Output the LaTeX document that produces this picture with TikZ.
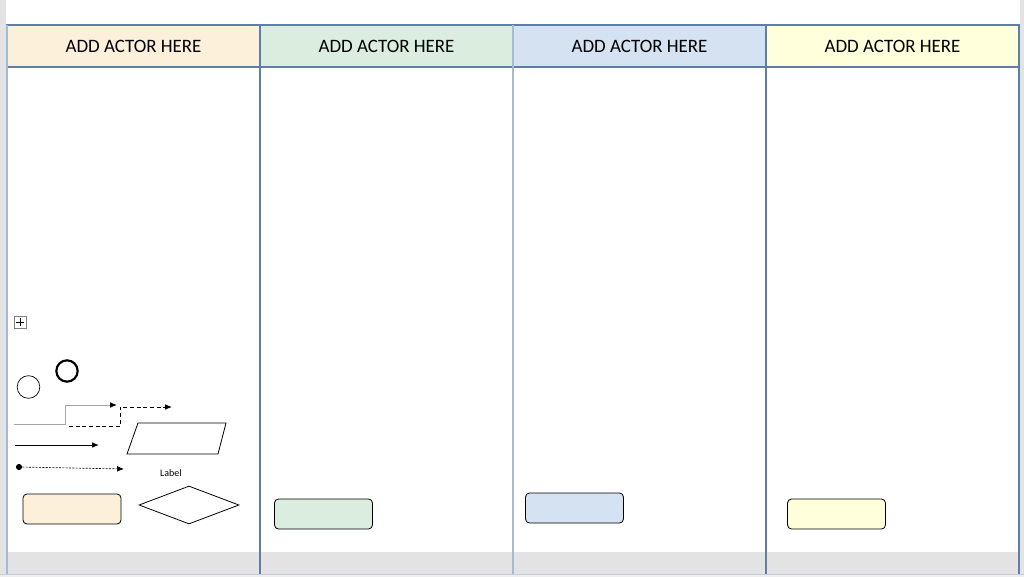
\documentclass[tikz,border=0pt]{standalone}
\usepackage{fontspec}
\setmainfont{Carlito}
\usetikzlibrary{arrows.meta,shapes.geometric}
\definecolor{peach}{HTML}{FDF0DB}
\definecolor{mint}{HTML}{DBEDDF}
\definecolor{sky}{HTML}{D5E2F2}
\definecolor{lemon}{HTML}{FFFFDC}
\definecolor{laneline}{HTML}{5E7EA8}
\definecolor{paleline}{HTML}{A6BBD2}
\definecolor{frame}{HTML}{E3E3E3}
\tikzset{x=0.75pt,y=-0.75pt,
    lanehead/.style={draw=laneline, line width=0.8pt, minimum width=189.75pt,
        minimum height=31.5pt, inner sep=0pt, font=\fontsize{14.2}{16}\selectfont},
    sidebox/.style={draw=black, line width=0.6pt, rounded corners=3pt,
        minimum width=73.5pt, minimum height=22.5pt, inner sep=0pt},
    tip/.style={-{Latex[length=5.2pt,width=4.2pt]}},
    }

\begin{document}
\begin{tikzpicture}
	\useasboundingbox (0,0) rectangle (1024,577);
	% window frame
	\fill[frame] (0,0) rectangle (6,574);
	\fill[frame] (1020,0) rectangle (1024,574);
	\fill[frame!60] (0,574) rectangle (1024,577);
	\fill[frame] (7,552) rectangle (1019,574);
	\draw[paleline!70, line width=0.6pt] (0,574) -- (1024,574);
	% lane heads
	\foreach \col [count=\i from 0] in {peach,mint,sky,lemon}
		\node[lanehead, fill=\col] (actor\i) at (133.5+253*\i,46) {ADD ACTOR HERE};
	% lane lines
	\draw[paleline, line width=1pt] (7,25) -- (7,574);
	\draw[laneline, line width=1.5pt] (260,25) -- (260,574);
	\draw[paleline, line width=1pt] (513,25) -- (513,574);
	\draw[laneline, line width=1.1pt] (766,25) -- (766,574);
	\draw[laneline, line width=1pt] (1019,25) -- (1019,574);
	% legend shapes
	\node[draw=gray, line width=0.6pt, minimum size=9.5pt, inner sep=0pt] (expand) at (20.5,322.5) {};
	\draw[line width=0.8pt] (expand.north) ++(0,2) -- ++(0,8.7) (expand.west) ++(2,0) -- ++(8.7,0);
	\node[draw, circle, line width=0.5pt, minimum size=17pt, inner sep=0pt] (startev) at (28.5,387) {};
	\node[draw, circle, line width=1.6pt, minimum size=16pt, inner sep=0pt] (endev) at (67,371) {};
	\coordinate (grayA) at (14,424);
	\coordinate (grayB) at (117,405);
	\draw[gray!70, -{Latex[length=5.2pt,width=4.2pt,black]}, line width=0.6pt] (grayA) -- (65,424) -- (65,405) -- (grayB);
	\coordinate (dashA) at (69,426);
	\coordinate (dashB) at (172,407);
	\draw[tip, line width=0.6pt, dash pattern=on 3pt off 2pt] (dashA) -- (120,426) -- (120,407) -- (dashB);
	\coordinate (flowA) at (15,445);
	\coordinate (flowB) at (99,445);
	\draw[tip, line width=0.7pt] (flowA) -- (flowB);
	\coordinate (msgA) at (19,467);
	\coordinate (msgB) at (124,469);
	\fill (msgA) circle (2.3pt);
	\draw[tip, line width=0.5pt, dash pattern=on 1.5pt off 1pt] (msgA) -- (msgB);
	\draw[line width=0.6pt] (138,423) -- (226,423) -- (218,454) -- (127,454) -- cycle;
	\node[font=\fontsize{7.5}{8}\selectfont] (label) at (171,473) {Label};
	\node[draw, diamond, aspect=2.6, line width=0.6pt, minimum width=75pt, minimum height=28.5pt, inner sep=0pt] (gate) at (189,505) {};
	% activity boxes
	\node[sidebox, fill=peach] (taskA) at (72,509) {};
	\node[sidebox, fill=mint] (taskB) at (323.5,514) {};
	\node[sidebox, fill=sky] (taskC) at (574.5,508) {};
	\node[sidebox, fill=lemon] (taskD) at (836.5,514) {};
\end{tikzpicture}
\end{document}
